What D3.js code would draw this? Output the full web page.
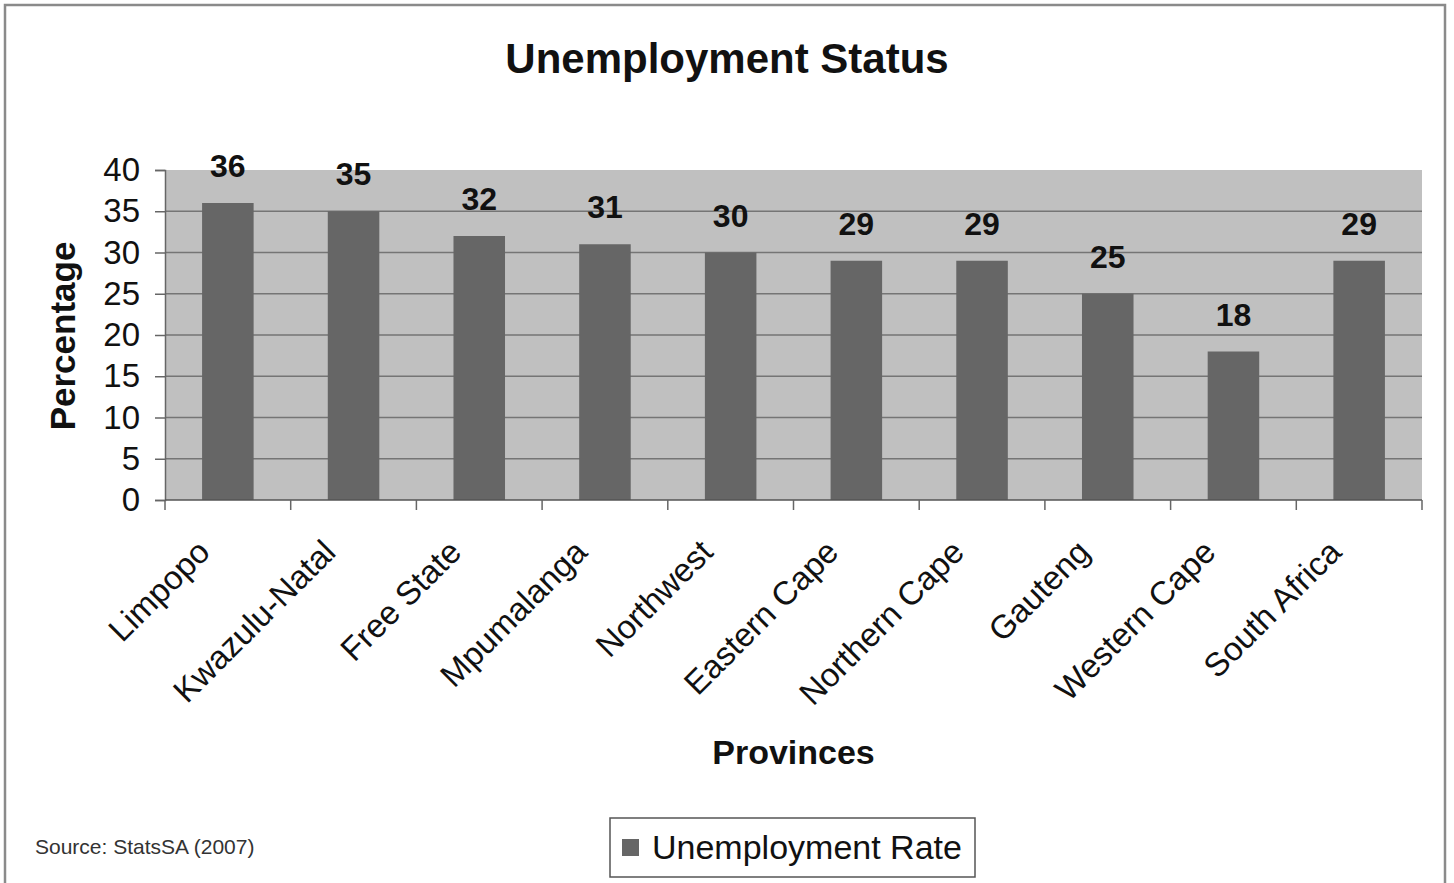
<!DOCTYPE html>
<html>
<head>
<meta charset="utf-8">
<script src="https://cdn.jsdelivr.net/npm/d3@7"></script>
<style>
  body { margin: 0; background: #fff; }
  svg { display: block; font-family: "Liberation Sans", Arial, sans-serif; }
</style>
</head>
<body>
<div id="chart"></div>
<script>
const provinces = ["Limpopo", "Kwazulu-Natal", "Free State", "Mpumalanga", "Northwest",
    "Eastern Cape", "Northern Cape", "Gauteng", "Western Cape", "South Africa"];
const rates = [36, 35, 32, 31, 30, 29, 29, 25, 18, 29];
const yTicks = [0, 5, 10, 15, 20, 25, 30, 35, 40];

const width = 1454, height = 883;
const plot = {left: 165, right: 1422, top: 170, bottom: 500};

const svg = d3.select("#chart").append("svg")
    .attr("width", width).attr("height", height);

// outer frame
svg.append("rect")
    .attr("x", 5).attr("y", 5).attr("width", 1440).attr("height", 890)
    .attr("fill", "none").attr("stroke", "#8a8a8a").attr("stroke-width", 2.5);

const x = d3.scaleBand().domain(provinces).range([plot.left, plot.right]);
const y = d3.scaleLinear().domain([0, 40]).range([plot.bottom, plot.top]);

svg.append("rect")
    .attr("x", plot.left).attr("y", plot.top)
    .attr("width", plot.right - plot.left).attr("height", plot.bottom - plot.top)
    .attr("fill", "#c0c0c0");

// gridlines
svg.append("g").selectAll("line").data(yTicks.filter(d => d > 0 && d < 40)).enter()
    .append("line")
    .attr("x1", plot.left).attr("x2", plot.right)
    .attr("y1", d => y(d)).attr("y2", d => y(d))
    .attr("stroke", "#757575").attr("stroke-width", 1.5);

// y axis
const yAxis = svg.append("g")
    .attr("transform", `translate(${plot.left},0)`)
    .call(d3.axisLeft(y).tickValues(yTicks).tickSize(10).tickPadding(15));
yAxis.select(".domain").attr("stroke", "#666").attr("stroke-width", 1.5);
yAxis.selectAll(".tick line").attr("stroke", "#666").attr("stroke-width", 1.5);
yAxis.selectAll(".tick text").attr("font-size", 33).attr("fill", "#111")
    .attr("font-family", "Liberation Sans, Arial, sans-serif");

// bars
const barW = x.bandwidth() * 0.41;
svg.append("g").selectAll("rect").data(provinces).enter()
    .append("rect")
    .attr("x", d => x(d) + (x.bandwidth() - barW) / 2)
    .attr("y", (d, i) => y(rates[i]))
    .attr("width", barW)
    .attr("height", (d, i) => y(0) - y(rates[i]))
    .attr("fill", "#666666");

// value labels
svg.append("g").selectAll("text").data(provinces).enter()
    .append("text")
    .attr("x", d => x(d) + x.bandwidth() / 2)
    .attr("y", (d, i) => y(rates[i]) - 26)
    .attr("text-anchor", "middle")
    .attr("font-size", 32).attr("font-weight", "bold").attr("fill", "#111")
    .text((d, i) => rates[i]);

// x axis
const xAxis = svg.append("g")
    .attr("transform", `translate(0,${plot.bottom})`);
xAxis.append("line")
    .attr("x1", plot.left).attr("x2", plot.right)
    .attr("stroke", "#555").attr("stroke-width", 1.5);
xAxis.selectAll("line.tk").data(provinces.concat(["end"])).enter()
    .append("line").attr("class", "tk")
    .attr("x1", (d, i) => i < provinces.length ? x(d) : plot.right)
    .attr("x2", (d, i) => i < provinces.length ? x(d) : plot.right)
    .attr("y1", 0).attr("y2", 10)
    .attr("stroke", "#666").attr("stroke-width", 1.5);
xAxis.selectAll("text").data(provinces).enter()
    .append("text")
    .attr("transform", d => `translate(${x(d) + x.bandwidth() / 2 - 16},${54}) rotate(-45)`)
    .attr("text-anchor", "end")
    .attr("font-size", 33).attr("fill", "#111")
    .text(d => d);

// titles
svg.append("text")
    .attr("x", 727).attr("y", 73)
    .attr("text-anchor", "middle")
    .attr("font-size", 42).attr("font-weight", "bold").attr("fill", "#111")
    .text("Unemployment Status");

svg.append("text")
    .attr("transform", `translate(75,${(plot.top + plot.bottom) / 2 + 1}) rotate(-90)`)
    .attr("text-anchor", "middle")
    .attr("font-size", 35).attr("font-weight", "bold").attr("fill", "#111")
    .text("Percentage");

svg.append("text")
    .attr("x", (plot.left + plot.right) / 2).attr("y", 764)
    .attr("text-anchor", "middle")
    .attr("font-size", 34).attr("font-weight", "bold").attr("fill", "#111")
    .text("Provinces");

// source
svg.append("text")
    .attr("x", 35).attr("y", 854)
    .attr("font-size", 21).attr("fill", "#333")
    .text("Source: StatsSA (2007)");

// legend
const legend = svg.append("g").attr("transform", "translate(610,818)");
legend.append("rect")
    .attr("width", 365).attr("height", 59)
    .attr("fill", "#fff").attr("stroke", "#555").attr("stroke-width", 1.5);
legend.append("rect")
    .attr("x", 12).attr("y", 21).attr("width", 17).attr("height", 17)
    .attr("fill", "#666666");
legend.append("text")
    .attr("x", 42).attr("y", 41)
    .attr("font-size", 34).attr("fill", "#111")
    .text("Unemployment Rate");
</script>
</body>
</html>
